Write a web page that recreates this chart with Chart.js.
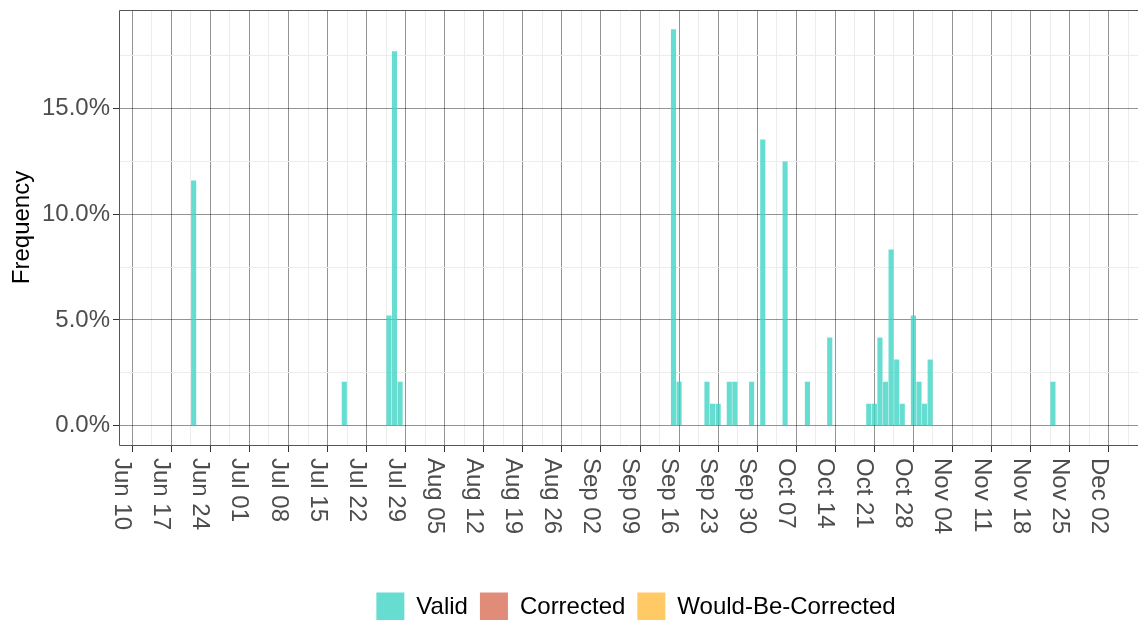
<!DOCTYPE html>
<html>
<head>
<meta charset="utf-8">
<title>Frequency</title>
<script src="https://cdn.jsdelivr.net/npm/chart.js@4.4.1/dist/chart.umd.min.js"></script>
<style>
  body { margin: 0; background: #fff; }
  canvas { display: block; }
</style>
</head>
<body>
<canvas id="myChart" width="1138" height="620"></canvas>
<script>
const seriesNames = ['Valid', 'Corrected', 'Would-Be-Corrected'];
const seriesColors = ['rgba(64, 212, 196, 0.8)', 'rgba(217, 110, 88, 0.8)', 'rgba(255, 187, 64, 0.8)'];

const validDates = ['2019-06-21', '2019-07-18', '2019-07-26', '2019-07-27', '2019-07-28',
    '2019-09-15', '2019-09-16', '2019-09-21', '2019-09-22', '2019-09-23', '2019-09-25',
    '2019-09-26', '2019-09-29', '2019-10-01', '2019-10-05', '2019-10-09', '2019-10-13',
    '2019-10-20', '2019-10-21', '2019-10-22', '2019-10-23', '2019-10-24', '2019-10-25',
    '2019-10-26', '2019-10-28', '2019-10-29', '2019-10-30', '2019-10-31', '2019-11-22'];
const validValues = [11.6, 2.08, 5.21, 17.71, 2.08,
    18.75, 2.08, 2.08, 1.04, 1.04, 2.08,
    2.08, 2.08, 13.54, 12.5, 2.08, 4.17,
    1.04, 1.04, 4.17, 2.08, 8.33, 3.13,
    1.04, 5.21, 2.08, 1.04, 3.13, 2.08];
const correctedDates = [];
const correctedValues = [];
const wouldBeDates = [];
const wouldBeValues = [];

const xTickDates = ['2019-06-10', '2019-06-17', '2019-06-24', '2019-07-01', '2019-07-08',
    '2019-07-15', '2019-07-22', '2019-07-29', '2019-08-05', '2019-08-12', '2019-08-19',
    '2019-08-26', '2019-09-02', '2019-09-09', '2019-09-16', '2019-09-23', '2019-09-30',
    '2019-10-07', '2019-10-14', '2019-10-21', '2019-10-28', '2019-11-04', '2019-11-11',
    '2019-11-18', '2019-11-25', '2019-12-02'];
const xTickLabels = ['Jun 10', 'Jun 17', 'Jun 24', 'Jul 01', 'Jul 08',
    'Jul 15', 'Jul 22', 'Jul 29', 'Aug 05', 'Aug 12', 'Aug 19',
    'Aug 26', 'Sep 02', 'Sep 09', 'Sep 16', 'Sep 23', 'Sep 30',
    'Oct 07', 'Oct 14', 'Oct 21', 'Oct 28', 'Nov 04', 'Nov 11',
    'Nov 18', 'Nov 25', 'Dec 02'];
const yTickValues = [0, 5, 10, 15];
const yTickLabels = ['0.0%', '5.0%', '10.0%', '15.0%'];

const FONT = '"Liberation Sans", Arial, sans-serif';
const MAJOR = 'rgba(0, 0, 0, 0.42)';
const MINOR = '#ececec';
const NONE = 'rgba(0, 0, 0, 0)';

// days since the first tick date
function dayOffset(str) {
    const [y, m, d] = str.split('-').map(Number);
    const [y0, m0, d0] = xTickDates[0].split('-').map(Number);
    return (Date.UTC(y, m - 1, d) - Date.UTC(y0, m0 - 1, d0)) / 86400000;
}

function toPoints(dates, values) {
    return dates.map((d, i) => ({ x: dayOffset(d), y: values[i] }));
}

const tickVal = (c) => (c && c.tick) ? c.tick.value : NaN;
const isMajorX = (v) => Math.abs(v % 7) < 1e-6;
const isMajorY = (v) => yTickValues.includes(v);

const dateLabelsPlugin = {
    id: 'dateLabels',
    afterDraw(chart) {
        const ctx = chart.ctx;
        const xScale = chart.scales.x;
        ctx.save();
        ctx.font = '24px ' + FONT;
        ctx.fillStyle = '#4d4d4d';
        ctx.textAlign = 'left';
        ctx.textBaseline = 'alphabetic';
        xTickDates.forEach((d, i) => {
            const px = xScale.getPixelForValue(dayOffset(d));
            ctx.save();
            ctx.translate(px, xScale.top + 13);
            ctx.rotate(Math.PI / 2);
            ctx.fillText(xTickLabels[i], 0, 17);
            ctx.restore();
        });
        ctx.restore();
    }
};

const framePlugin = {
    id: 'frame',
    afterDraw(chart) {
        const { ctx, chartArea } = chart;
        const l = Math.round(chartArea.left) - 0.5;
        const t = Math.round(chartArea.top) + 0.5;
        const b = Math.round(chartArea.bottom) + 0.5;
        ctx.save();
        ctx.strokeStyle = '#555';
        ctx.lineWidth = 1;
        ctx.beginPath();
        ctx.moveTo(chart.width + 5, t);
        ctx.lineTo(l, t);
        ctx.lineTo(l, b);
        ctx.lineTo(chart.width + 5, b);
        ctx.stroke();
        ctx.restore();
    }
};

const legendPlugin = {
    id: 'bottomLegend',
    afterDraw(chart) {
        const ctx = chart.ctx;
        const box = 28, gap = 12;
        ctx.save();
        ctx.font = '24px ' + FONT;
        const widths = chart.data.datasets.map(ds => ctx.measureText(ds.label).width);
        let total = 0;
        widths.forEach(w => { total += box + gap + w; });
        total += gap * (widths.length - 1);
        let x = 636 - total / 2;
        const cy = 606.5;
        chart.data.datasets.forEach((ds, i) => {
            ctx.fillStyle = ds.backgroundColor;
            ctx.fillRect(x, cy - box / 2, box, box);
            ctx.fillStyle = '#000';
            ctx.textBaseline = 'middle';
            ctx.textAlign = 'left';
            ctx.fillText(ds.label, x + box + gap, cy + 1);
            x += box + gap + widths[i] + gap;
        });
        ctx.restore();
    }
};

function createChart() {
    const ctx = document.getElementById('myChart');
    const allData = [
        toPoints(validDates, validValues),
        toPoints(correctedDates, correctedValues),
        toPoints(wouldBeDates, wouldBeValues)
    ];
    return new Chart(ctx, {
        type: 'bar',
        data: {
            datasets: seriesNames.map((name, i) => ({
                label: name,
                data: allData[i],
                backgroundColor: seriesColors[i],
                borderWidth: 0,
                barPercentage: 0.92,
                categoryPercentage: 1,
                grouped: false
            }))
        },
        options: {
            responsive: false,
            animation: false,
            layout: { padding: { top: 10, left: 0, right: 0, bottom: 0 } },
            plugins: {
                legend: { display: false },
                tooltip: { enabled: false }
            },
            scales: {
                x: {
                    type: 'linear',
                    offset: false,
                    min: -2.2,
                    max: 180.25,
                    afterBuildTicks: (scale) => {
                        const ticks = [];
                        for (let v = 0; v <= 180; v += 3.5) ticks.push({ value: v });
                        scale.ticks = ticks;
                    },
                    afterFit: (scale) => {
                        scale.height = 175;
                        scale.paddingLeft = 0;
                        scale.paddingRight = 0;
                    },
                    border: { display: false },
                    grid: {
                        offset: false,
                        color: (c) => isMajorX(tickVal(c)) ? MAJOR : MINOR,
                        tickColor: (c) => isMajorX(tickVal(c)) ? '#333' : NONE,
                        tickLength: 7,
                        lineWidth: 1
                    },
                    ticks: {
                        autoSkip: false,
                        maxRotation: 0,
                        minRotation: 0,
                        callback: () => ''
                    }
                },
                y: {
                    min: -0.913,
                    max: 19.664,
                    afterBuildTicks: (scale) => {
                        const ticks = [];
                        for (let v = 0; v <= 17.5; v += 2.5) ticks.push({ value: v });
                        scale.ticks = ticks;
                    },
                    afterFit: (scale) => {
                        scale.width = 120;
                        scale.paddingTop = 0;
                        scale.paddingBottom = 0;
                    },
                    border: { display: false },
                    grid: {
                        offset: false,
                        color: (c) => isMajorY(tickVal(c)) ? MAJOR : MINOR,
                        tickColor: (c) => isMajorY(tickVal(c)) ? '#333' : NONE,
                        tickLength: 7,
                        lineWidth: 1
                    },
                    ticks: {
                        autoSkip: false,
                        padding: 3,
                        color: '#4d4d4d',
                        font: { family: FONT, size: 24 },
                        callback: (v) => {
                            const i = yTickValues.indexOf(v);
                            return i >= 0 ? yTickLabels[i] : '';
                        }
                    },
                    title: {
                        display: true,
                        text: 'Frequency',
                        color: '#000',
                        font: { family: FONT, size: 24 },
                        padding: { top: 8, bottom: 0 }
                    }
                }
            }
        },
        plugins: [dateLabelsPlugin, framePlugin, legendPlugin]
    });
}

createChart();
</script>
</body>
</html>
